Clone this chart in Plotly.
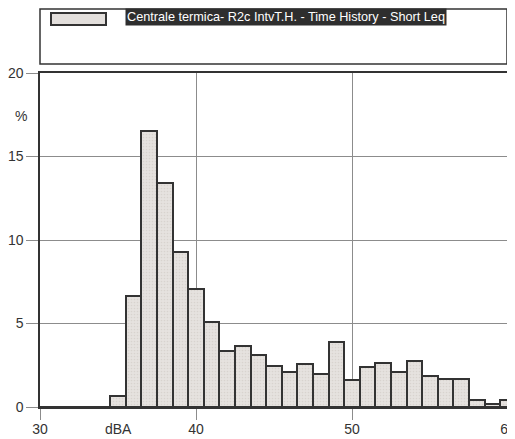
import plotly.graph_objects as go

# Data
levels_dba = list(range(30, 61))
percent = [0, 0, 0, 0, 0, 0.65, 6.65, 16.5, 13.4, 9.3, 7.05, 5.1, 3.33, 3.63,
           3.09, 2.43, 2.09, 2.57, 1.99, 3.87, 1.63, 2.41, 2.63, 2.09, 2.75,
           1.85, 1.65, 1.65, 0.43, 0.19, 0.43]
x_tickvals = [30, 40, 50, 60]
x_ticktext = ["30", "40", "50", "60"]
y_tickvals = [0, 5, 10, 15, 20]
y_ticktext = ["0", "5", "10", "15", "20"]
series_name = "Centrale termica- R2c IntvT.H. - Time History - Short Leq"

# The page body has an 8px margin, so the figure is drawn offset by 8px.
OFF = 8
WIN_W, WIN_H = 515, 439
W, H = WIN_W - OFF, WIN_H - OFF
# plot area in window pixels
L, R, T, B = 40, 508, 73, 407

def px(x):
    return (x - L) / (R - L)

def py(y):
    return (B - y) / (B - T)

FONT = "Liberation Sans, Arial, sans-serif"
DARK = "#333333"
GRID = "#8c8c8c"
TICKSIZE = 14

fig = go.Figure()
fig.add_trace(go.Bar(
    x=levels_dba, y=percent, width=1,
    marker=dict(color="#e3dfdc", line=dict(color=DARK, width=2),
                pattern=dict(shape=".", fgcolor="#c9c4c0", bgcolor="#e6e2df",
                             size=3, solidity=0.25)),
    showlegend=False,
))

fig.update_layout(
    width=W, height=H,
    margin=dict(l=L - OFF, r=WIN_W - R, t=T - OFF, b=WIN_H - B, pad=0),
    paper_bgcolor="white", plot_bgcolor="white",
    font=dict(family=FONT, size=12, color=DARK),
    bargap=0,
    xaxis=dict(range=[30, 60], tickvals=x_tickvals, ticktext=x_ticktext,
               showgrid=True, gridcolor=GRID, gridwidth=1,
               ticks="outside", ticklen=11, tickcolor=GRID, tickwidth=1,
               showline=True, linecolor=DARK, linewidth=1.5, mirror=True,
               zeroline=False, automargin=False,
               ticklabeloverflow="allow", ticklabelstandoff=-3,
               tickfont=dict(size=TICKSIZE, color=DARK)),
    yaxis=dict(range=[0, 20], tickvals=y_tickvals, ticktext=y_ticktext,
               showgrid=True, gridcolor=GRID, gridwidth=1,
               ticks="outside", ticklen=12, tickcolor=GRID, tickwidth=1,
               showline=True, linecolor=DARK, linewidth=1.5, mirror=True,
               zeroline=False, automargin=False,
               ticklabeloverflow="allow",
               tickfont=dict(size=TICKSIZE, color=DARK)),
    shapes=[
        dict(type="rect", xref="paper", yref="paper",
             x0=px(40), x1=px(507), y0=py(64), y1=py(9),
             line=dict(color=DARK, width=1.5), fillcolor="white"),
        dict(type="rect", xref="paper", yref="paper",
             x0=px(51), x1=px(106), y0=py(25), y1=py(13),
             line=dict(color=DARK, width=2), fillcolor="#e3dfdc"),
    ],
    annotations=[
        dict(text=series_name, xref="paper", yref="paper",
             x=px(125), y=py(16.5), xanchor="left", yanchor="middle",
             showarrow=False, bgcolor="#2e2e2e", borderpad=1,
             font=dict(family=FONT, size=12.7, color="white")),
        dict(text="dBA", xref="x", yref="paper", x=35, y=py(428.5),
             xanchor="center", yanchor="middle", showarrow=False,
             font=dict(family=FONT, size=TICKSIZE, color=DARK)),
        dict(text="%", xref="paper", yref="paper", x=px(29), y=py(116),
             xanchor="right", yanchor="middle", showarrow=False,
             font=dict(family=FONT, size=TICKSIZE, color=DARK)),
    ],
)

fig.write_html("out.html")
